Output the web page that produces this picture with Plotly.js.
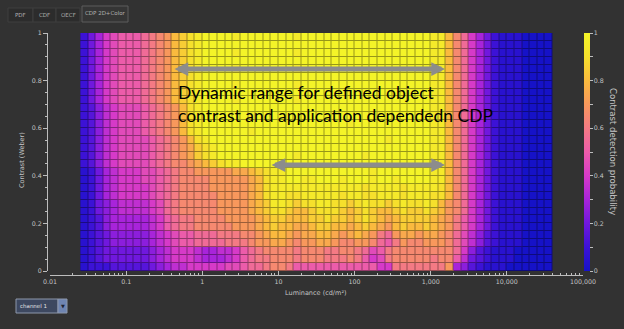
<!DOCTYPE html>
<html><head><meta charset="utf-8">
<script src="https://cdn.plot.ly/plotly-3.0.1.min.js"></script>
<style>html,body{margin:0;padding:0;background:#323232;}#chart{width:624px;height:329px;}</style>
</head><body><div id="chart"></div>
<script>
// ---- data ----
// Luminance bins: one column per 0.1 decade, edges 10^-1.6 ... 10^4.6 cd/m²
const lumEdges = Array.from({length: 63}, (_, k) => Math.pow(10, -1.6 + 0.1 * k));
// Contrast bins: 30 rows from 0 to 1
const contrastEdges = Array.from({length: 31}, (_, k) => k / 30);
// CDP level per cell, rows bottom (contrast 0) -> top (contrast 1).
// Letter code: A=0.00, B=0.05, ... K=0.50, ... U=1.00 (steps of 0.05)
const cdpRows = [
  "BCCCDDDDDEFGHHII"+"IIIJJKLLMNNMKKKK"+"KKKKKKKIIMMMMMM"+"MOGFDCBBBAAAAAA",
  "BCDEEEEEEFGHIIIH"+"GGGHIKLMMNNNMNNN"+"MMMNMKIJMNNNNNM"+"NNKHEDCBBBAAAAA",
  "BCDEEEEEEFGHIIIH"+"GGHHIKLMNNNNMNNN"+"MMNNMLJKMNNNNNN"+"NNLIFDCBBBAAAAA",
  "BCDEFFFFFGHIJKKL"+"LLLMMMNOOPPONOOP"+"PONNOONLKMONNOO"+"ONLJHFDCBBBAAAA",
  "BCDEFFFFFGHIJKKL"+"LLMMMNNOPQQPOPPQ"+"QPOPQPOMLOPPOPP"+"ONLJHFDCBBBAAAA",
  "BCDFGGGGGHIKLMMN"+"NNNNOOOPQRQQPPQR"+"RQQPQRQPOQRQQRQ"+"POMKIGECBBBAAAA",
  "BCDFGGGGGHIKLMMN"+"NNNOOOOPQRRQQQRR"+"SRRQRSRQPQRRRRQ"+"POMKIGECBBBAAAA",
  "BCEFGHHHHIJLMNNN"+"NNOOOOPQRSSRQQRS"+"SSRQRSRQQRSRRSR"+"QONLIGECBBBAAAA",
  "BCEFGHHHHIJLMNNN"+"NNOOOOPQRTTSRSST"+"TSSRSTSSRSTSSTS"+"QONLIGECBBBAAAA",
  "BCEGHIIIIJKLMNNN"+"NNOOOOPQSTTSSTTT"+"TTSTTSSTTTSTTTS"+"SQNLIGECBBBAAAA",
  "BCEGHIIIIJKLMNNN"+"NOOOOOPQSTTTTTTT"+"TTTTTSTTTTSTTTT"+"SQNLIGECBBBAAAA",
  "BCEGHIIIJJKLMNNN"+"NOOOOOPQSTTUUTTU"+"UUTUUUTUUTUUUUT"+"TQNLIGECBBBAAAA",
  "BCEGHIIIJJKLMNNO"+"OOOOPPQRSTTUUUUU"+"UUUUUUTUUUUUUUT"+"TQNLIGECBBBAAAA",
  "CDFHIJJJJKLMNNOP"+"QRSTTUUUUUUUUUUU"+"UUUUUUUUUUUUUUT"+"TQNLIGECBBBAAAA",
  "CDFHIJJJJKLMNOPR"+"STUUUUUUUUUUTUUU"+"UUUUUTUUUUUUUUT"+"TQNLIGECBBBAAAA",
  "CDFHIJJJJKLMNOPR"+"STUUUUUUUUUUUUUU"+"UUUUUUUUUUUUUUT"+"TQNLIGECBBBAAAA",
  "CDFHIJJJJKLMNOQS"+"TUUUUUUUUUUUUUUU"+"UUUUUUUUTUUUUUT"+"TQNLIGECBBBAAAA",
  "CDFHIJJJKLMNOQST"+"UUUUUUTUUUUUUUUU"+"UUUUUUUUUUUUUUT"+"TQNLIGECBBBAAAA",
  "CDFHIJJJKLMNOQST"+"UUUUUUUUUUUUUUUU"+"UUUTUUUUUUUUUUT"+"TQNLIGECBBBAAAA",
  "CDFHIJJJKLMNOQST"+"UUUUUUTUUUUUUUUU"+"UUUUUUUUUUUUUUT"+"TQNLIGECBBBAAAA",
  "CDFHIJJJKLMNOQST"+"UUUUUUUUUUUUUUUU"+"UUUUUUUUUUUUUUT"+"TQNLIGECBBBAAAA",
  "CEGIJKKKLMNOQRST"+"UUUUTUUUUUUUTUUU"+"UUUUUUUUUUUUUUT"+"TQNLIGECBBBAAAA",
  "CEGIJKKKLMNOQRST"+"UUUUUUUUUUUUUUUU"+"UUUUUUUUUUUUUUT"+"TQNLIGECBBBAAAA",
  "CEGIJKKKLMNOQRST"+"UUUUTUUUUUUUTUUU"+"UUUUUUUUUUUUUUT"+"TQNLIGECBBBAAAA",
  "CEGIJKKKLMNOQRST"+"UUUUUUUUUUUUUUUU"+"UUUUUUUUUUUUUUT"+"TQNLIGECBBBAAAA",
  "CEGIJKKKLMNOQRST"+"UUUUTUUUUUUUTUUU"+"UUUUUUUUUUUUUUT"+"TQNLIGECBBBAAAA",
  "CEGIJKKKLMNOQRST"+"UUUUUUUUUUUUUUUU"+"UUUUUUUUUUUUUUT"+"TQNLIGECBBBAAAA",
  "CEGIJKKKLMNOQRST"+"UUUUTUUUUUUUTUUU"+"UUUUUUUUUUUUUUT"+"TQNLIGECBBBAAAA",
  "CEGIJKKKLMNOQRST"+"UUUUUUUUUUUUUUUU"+"UUUUUUUUUUUUUUT"+"TQNLIGECBBBAAAA",
  "CEGIJKKKLMNOQRST"+"UUUUTUUUUUUUTUUU"+"UUUUUUUUUUUUUUT"+"TQNLIGECBBBAAAA"
];
const xTickVals = [0.01, 0.1, 1, 10, 100, 1000, 10000, 100000];
const xTickText = ['0.01', '0.1', '1', '10', '100', '1,000', '10,000', '100,000'];
const yTickVals = [0, 0.2, 0.4, 0.6, 0.8, 1];
const yTickText = ['0', '0.2', '0.4', '0.6', '0.8', '1'];
const cbTickVals = [0, 0.1, 0.2, 0.3, 0.4, 0.5, 0.6, 0.7, 0.8, 0.9, 1];
const cbTickText = ['0', '', '0.2', '', '0.4', '', '0.6', '', '0.8', '', '1'];
const tabLabels = ['PDF', 'CDF', 'OECF', 'CDP 2D+Color'];
const annotationText = 'Dynamic range for defined object<br>contrast and application dependedn CDP';

// ---- build ----
const cdp = cdpRows.map((r, j) => {
  if (r.length !== 62) throw new Error('row ' + j + ' has length ' + r.length);
  return [...r].map(c => (c.charCodeAt(0) - 65) / 20);
});

const scaleStops = [
  [0.0, [22, 18, 200]], [0.1, [60, 18, 214]], [0.2, [112, 24, 222]], [0.3, [168, 36, 218]],
  [0.4, [214, 58, 200]], [0.5, [236, 92, 170]], [0.6, [244, 122, 132]], [0.7, [248, 152, 92]],
  [0.8, [250, 186, 62]], [0.9, [246, 224, 44]], [1.0, [244, 244, 40]]
];
const cdpScale = scaleStops.map(([v, c]) => [v, `rgb(${c[0]},${c[1]},${c[2]})`]);
const cdpScaleDark = scaleStops.map(([v, c]) => [v, `rgb(${Math.round(c[0]*0.62)},${Math.round(c[1]*0.62)},${Math.round(c[2]*0.62)})`]);

const minorX = [];
for (let e = -2; e <= 4; e++) for (let d = 2; d <= 9; d++) minorX.push(d * Math.pow(10, e));

const L = 47, R = 41, T = 33, B = 54, W = 624 - L - R, H = 329 - T - B;
const px = x => (x - L) / W;
const py = y => (329 - B - y) / H;
const lx = p => (p - 50) / 76.14 - 2;       // pixel -> log10 luminance
const cy = p => (271 - p) / 238;            // pixel -> contrast

const axCol = '#bdbdbd', txtCol = '#c4c4c4';
const tickFont = {family: 'DejaVu Sans', size: 6.3, color: txtCol};

const traces = [
  {type: 'heatmap', x: lumEdges, y: contrastEdges, z: cdp, zmin: 0, zmax: 1,
   colorscale: cdpScaleDark, showscale: false, hoverinfo: 'skip'},
  {type: 'heatmap', x: lumEdges, y: contrastEdges, z: cdp, zmin: 0, zmax: 1,
   colorscale: cdpScale, xgap: 1, ygap: 1, showscale: true,
   colorbar: {x: px(584), xanchor: 'left', xpad: 0, ypad: 0, y: 1, yanchor: 'top',
     len: 238 / H, lenmode: 'fraction', thickness: 6, outlinewidth: 0,
     ticks: 'outside', ticklen: 3, tickcolor: axCol, tickwidth: 1,
     tickmode: 'array', tickvals: cbTickVals, ticktext: cbTickText,
     tickfont: tickFont, title: {text: ''}}}
];

const shapes = [];
const annotations = [];
const note = (x, y, text, font, extra) => annotations.push(Object.assign(
  {xref: 'paper', yref: 'paper', x: x, y: y, text: text, showarrow: false, xanchor: 'center', yanchor: 'middle', font: font}, extra || {}));
// tabs
const tabX = [[8, 33], [33, 56], [56, 80], [82, 128]];
tabLabels.forEach((t, i) => {
  const sel = i === tabLabels.length - 1;
  shapes.push({type: 'rect', xref: 'paper', yref: 'paper',
    x0: px(tabX[i][0]), x1: px(tabX[i][1]), y0: py(22), y1: py(sel ? 6 : 8),
    line: {color: sel ? '#5c5c5c' : '#3e3e3e', width: 1}, fillcolor: sel ? '#353535' : '#2c2c2c', layer: 'below'});
  note(px((tabX[i][0] + tabX[i][1]) / 2), py(sel ? 13.5 : 14.5), t, {family: 'DejaVu Sans', size: 5.5, color: '#b0b0b0'});
});
// dropdown
shapes.push({type: 'rect', xref: 'paper', yref: 'paper', x0: px(16), x1: px(58), y0: py(313), y1: py(299),
  line: {color: '#8d97ab', width: 1}, fillcolor: '#3d4860'});
shapes.push({type: 'rect', xref: 'paper', yref: 'paper', x0: px(58), x1: px(67), y0: py(313), y1: py(299),
  line: {color: '#8d97ab', width: 1}, fillcolor: '#6f85b2'});
note(px(18), py(306), 'channel 1', {family: 'DejaVu Sans', size: 5.5, color: '#e0e0e0'}, {xanchor: 'left'});
note(px(62.5), py(306), '▼', {family: 'DejaVu Sans', size: 5, color: '#1d2333'});
// axis titles
note(px(316), py(293), 'Luminance (cd/m²)', {family: 'DejaVu Sans', size: 6.5, color: txtCol});
note(px(22), py(160), 'Contrast (Weber)', {family: 'DejaVu Sans', size: 6.5, color: txtCol}, {textangle: -90});
// colorbar title
note(px(613), py(151), 'Contrast detection probability', {family: 'DejaVu Sans', size: 8.5, color: txtCol}, {textangle: 90});
// main text
annotations.push({xref: 'x', yref: 'y', x: lx(176), y: cy(104), xanchor: 'left', yanchor: 'middle', align: 'left',
  text: annotationText, showarrow: false, font: {family: 'Lato', size: 17.5, color: '#000000'}});
// arrows
[[173, 445, 69], [270, 445, 165]].forEach(([a, b, yy]) => {
  annotations.push({xref: 'x', yref: 'y', axref: 'x', ayref: 'y', x: lx(b), y: cy(yy), ax: lx(a), ay: cy(yy),
    text: '', showarrow: true, arrowhead: 2, startarrowhead: 2, arrowside: 'end+start',
    arrowsize: 0.55, startarrowsize: 0.55, arrowwidth: 5, arrowcolor: '#8c8c8c'});
});

const layout = {
  width: 624, height: 329, margin: {l: L, r: R, t: T, b: B, pad: 0},
  paper_bgcolor: '#323232', plot_bgcolor: '#323232',
  showlegend: false,
  xaxis: {type: 'log', range: [-2, 5], domain: [3 / W, 1], anchor: 'free', position: 0,
    showline: true, linecolor: axCol, linewidth: 1, showgrid: false, zeroline: false,
    ticks: 'inside', ticklen: 4, tickcolor: axCol, tickmode: 'array', tickvals: xTickVals, ticktext: xTickText,
    tickfont: tickFont,
    minor: {ticks: 'inside', ticklen: 2, tickcolor: axCol, tickmode: 'array', tickvals: minorX, showgrid: false}},
  yaxis: {range: [0, 1], domain: [4 / H, 1], anchor: 'free', position: 0,
    showline: true, linecolor: axCol, linewidth: 1, showgrid: false, zeroline: false,
    ticks: 'outside', ticklen: 4, tickcolor: axCol, tickmode: 'array', tickvals: yTickVals, ticktext: yTickText,
    tickfont: tickFont,
    minor: {ticks: 'outside', ticklen: 2, tickcolor: axCol, dtick: 0.05, showgrid: false}},
  shapes: shapes, annotations: annotations
};

Plotly.newPlot('chart', traces, layout, {staticPlot: true, displayModeBar: false});
</script>
</body></html>
